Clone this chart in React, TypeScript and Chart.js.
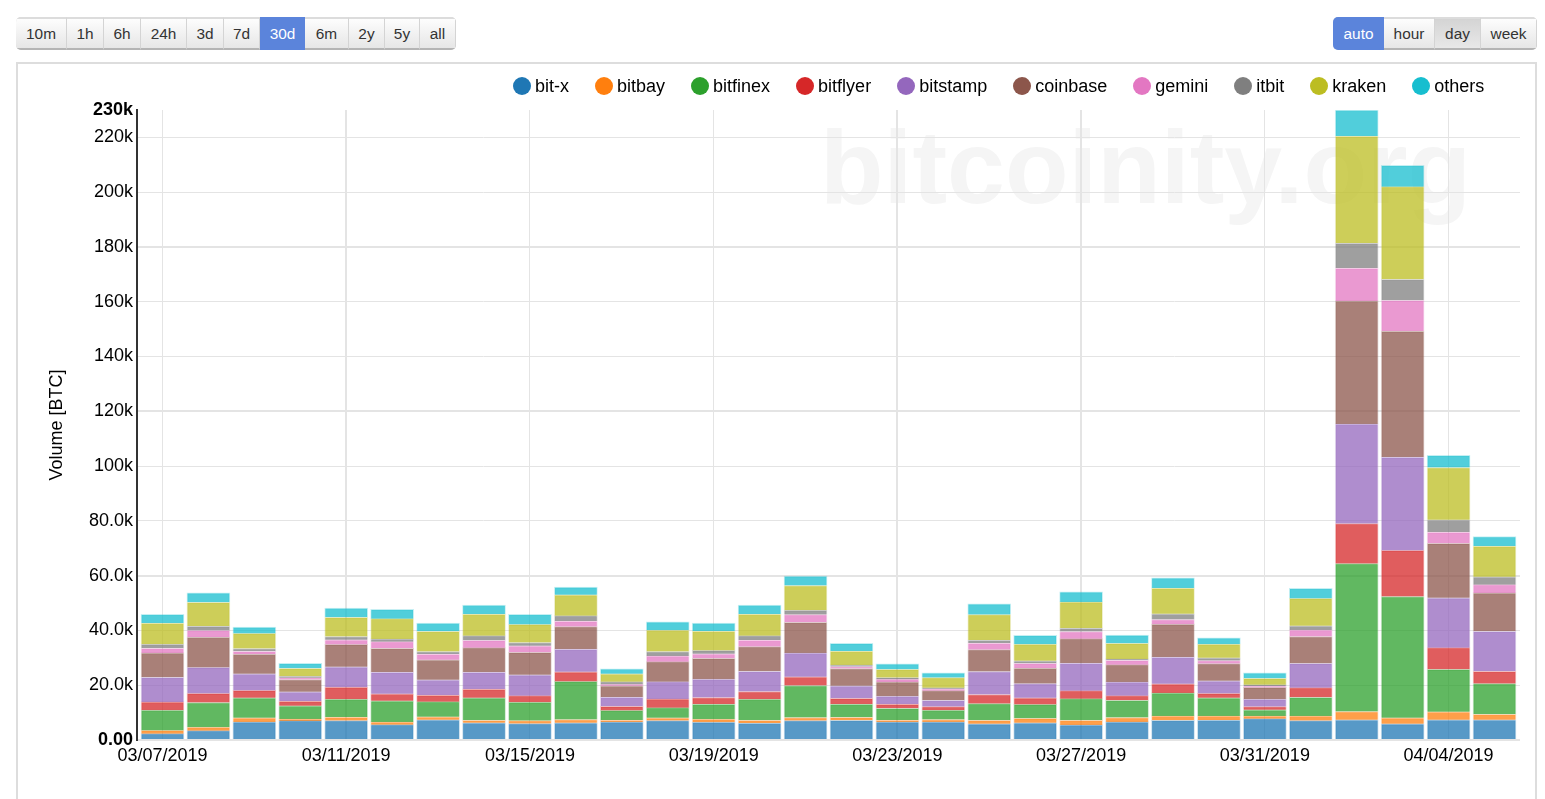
import { useEffect, useRef } from "react"
import { Chart, registerables } from "chart.js"

Chart.register(...registerables)

const days = [
  "03/07/2019", "03/08/2019", "03/09/2019", "03/10/2019", "03/11/2019", "03/12/2019",
  "03/13/2019", "03/14/2019", "03/15/2019", "03/16/2019", "03/17/2019", "03/18/2019",
  "03/19/2019", "03/20/2019", "03/21/2019", "03/22/2019", "03/23/2019", "03/24/2019",
  "03/25/2019", "03/26/2019", "03/27/2019", "03/28/2019", "03/29/2019", "03/30/2019",
  "03/31/2019", "04/01/2019", "04/02/2019", "04/03/2019", "04/04/2019", "04/05/2019",
]

// volumes in thousands of BTC
const bitx = [2.3, 3.4, 6.6, 7.1, 7.1, 5.6, 7.4, 6.3, 6.0, 6.3, 6.6, 7.1, 6.5, 6.2, 7.1, 7.2, 6.6, 6.6, 5.9, 6.3, 5.5, 6.6, 7.2, 7.3, 7.8, 7.1, 7.4, 5.9, 7.4, 7.4]
const bitbay = [1.2, 1.3, 1.5, 0.6, 1.3, 1.0, 1.1, 0.9, 1.1, 1.2, 0.7, 1.0, 1.1, 1.0, 1.1, 1.1, 0.7, 0.9, 1.3, 1.6, 1.7, 1.6, 1.6, 1.5, 1.0, 1.7, 3.0, 2.2, 2.9, 2.0]
const bitfinex = [7.4, 9.0, 7.3, 4.8, 6.5, 7.7, 5.5, 8.2, 6.7, 13.9, 3.5, 3.7, 5.5, 7.7, 11.7, 4.8, 4.3, 3.4, 6.1, 5.1, 7.9, 6.3, 8.4, 6.6, 2.2, 6.8, 54.0, 44.3, 15.5, 11.2]
const bitflyer = [3.0, 3.3, 2.7, 1.7, 4.4, 2.6, 2.4, 3.2, 2.4, 3.5, 1.5, 3.2, 2.4, 2.8, 3.2, 2.1, 1.5, 1.3, 3.3, 2.4, 2.9, 1.7, 3.3, 1.6, 1.2, 3.5, 14.6, 16.8, 7.9, 4.5]
const bitstamp = [9.0, 9.5, 6.1, 3.4, 7.4, 7.9, 5.6, 6.2, 7.6, 8.3, 3.4, 6.3, 6.7, 7.4, 8.7, 4.6, 2.9, 2.3, 8.4, 5.2, 10.1, 5.0, 9.8, 4.6, 2.7, 8.9, 36.4, 34.1, 18.2, 14.6]
const coinbase = [8.9, 11.1, 7.2, 4.5, 8.2, 8.7, 7.3, 8.9, 8.2, 8.2, 4.1, 7.3, 7.6, 9.0, 11.2, 6.3, 5.2, 3.5, 8.0, 5.7, 8.9, 6.3, 12.0, 6.3, 4.3, 9.8, 44.9, 46.0, 19.9, 14.0]
const gemini = [1.7, 2.4, 1.0, 0.6, 1.7, 2.4, 2.1, 2.7, 2.4, 2.0, 0.5, 2.1, 1.7, 2.4, 2.8, 0.7, 1.0, 0.7, 2.4, 1.7, 2.6, 1.6, 1.7, 1.1, 0.5, 2.4, 12.0, 11.2, 4.1, 3.0]
const itbit = [1.5, 1.6, 1.0, 0.6, 1.2, 1.0, 0.9, 1.7, 1.2, 2.0, 1.0, 1.6, 1.2, 1.6, 1.6, 0.6, 0.6, 0.4, 1.1, 0.9, 1.3, 0.5, 2.1, 1.0, 0.5, 1.5, 9.1, 7.7, 4.5, 2.9]
const kraken = [7.7, 8.7, 5.5, 2.9, 7.0, 7.4, 7.4, 7.9, 6.6, 7.6, 2.9, 7.8, 7.1, 7.9, 9.0, 5.1, 3.0, 3.7, 9.3, 6.1, 9.5, 5.7, 9.4, 5.0, 2.3, 10.0, 39.1, 33.8, 19.1, 11.2]
const others = [3.2, 3.4, 2.3, 1.8, 3.4, 3.4, 3.0, 3.3, 3.7, 2.8, 1.8, 3.0, 2.9, 3.3, 3.4, 2.8, 2.0, 1.7, 3.9, 3.2, 3.7, 3.0, 3.7, 2.3, 2.0, 3.7, 9.5, 7.8, 4.4, 3.5]

const seriesNames = ["bit-x", "bitbay", "bitfinex", "bitflyer", "bitstamp", "coinbase", "gemini", "itbit", "kraken", "others"]
const seriesValues = [bitx, bitbay, bitfinex, bitflyer, bitstamp, coinbase, gemini, itbit, kraken, others]
const seriesRgb = ["31,119,180", "255,127,14", "44,160,44", "214,39,40", "148,103,189", "140,86,75", "227,119,194", "127,127,127", "188,189,34", "23,190,207"]

const xTicks = [0, 4, 8, 12, 16, 20, 24, 28]
const yTicks = [0, 20, 40, 60, 80, 100, 120, 140, 160, 180, 200, 220, 230]

const rangeButtons = [
  { label: "10m", width: 51 }, { label: "1h", width: 37 }, { label: "6h", width: 37 }, { label: "24h", width: 46 },
  { label: "3d", width: 37 }, { label: "7d", width: 36 }, { label: "30d", width: 45, active: true }, { label: "6m", width: 44 },
  { label: "2y", width: 36 }, { label: "5y", width: 35 }, { label: "all", width: 36 },
]
const stepButtons = [
  { label: "auto", width: 51, active: true }, { label: "hour", width: 51 },
  { label: "day", width: 46, pressed: true }, { label: "week", width: 56 },
]

const FONT = "'Liberation Sans', Arial, sans-serif"

function formatY(v: number) {
  if (v === 0) return "0.00"
  return v >= 100 ? `${v}k` : `${v}.0k`
}

function ButtonGroup({ items, left }: { items: any[]; left: number }) {
  return (
    <div style={{ position: "absolute", left, top: 17, display: "flex", height: 33, borderRadius: 5, overflow: "hidden", boxShadow: "inset 0 0 0 1px #d8d8d8" }}>
      {items.map((b) => (
        <div
          key={b.label}
          style={{
            width: b.width,
            boxSizing: "border-box",
            textAlign: "center",
            lineHeight: b.active ? "33px" : "29px",
            fontSize: 15.4,
            color: b.active ? "#fff" : "#333",
            background: b.active ? "#5b84db" : b.pressed ? "linear-gradient(#d4d4d4, #e8e8e8)" : "linear-gradient(#fdfdfd, #e6e6e6)",
            borderRight: b.active ? "none" : "1px solid #d4d4d4",
            borderTop: b.active ? "none" : "2px solid #dcdcdc",
            borderBottom: b.active ? "none" : "2px solid #b4b4b4",
          }}
        >
          {b.label}
        </div>
      ))}
    </div>
  )
}

export default function App() {
  const canvasRef = useRef<HTMLCanvasElement>(null)

  useEffect(() => {
    if (!canvasRef.current) return

    const chart = new Chart(canvasRef.current, {
      type: "bar",
      data: {
        datasets: seriesNames.map((name, i) => ({
          label: name,
          data: seriesValues[i].map((v, day) => ({ x: day, y: v })),
          backgroundColor: `rgba(${seriesRgb[i]},0.75)`,
          borderColor: `rgba(${seriesRgb[i]},0.25)`,
          borderWidth: 1,
          barThickness: 43,
        })),
      },
      options: {
        animation: false,
        responsive: false,
        devicePixelRatio: 1,
        layout: { padding: { left: 46, top: 110, right: 25, bottom: 0 } },
        plugins: { legend: { display: false }, tooltip: { enabled: false } },
        scales: {
          x: {
            type: "linear",
            stacked: true,
            offset: false,
            min: -0.555,
            max: 29.555,
            afterBuildTicks: (scale: any) => {
              scale.ticks = xTicks.map((value) => ({ value }))
            },
            afterFit: (scale: any) => {
              scale.height = 59
            },
            grid: {
              offset: false,
              color: "#e4e4e4",
              drawTicks: false,
              lineWidth: (ctx: any) => (ctx.tick && [4, 16, 20].includes(ctx.tick.value) ? 2 : 1),
            },
            border: { display: false },
            ticks: {
              autoSkip: false,
              maxRotation: 0,
              padding: 5,
              color: "#000",
              font: { family: FONT, size: 18 },
              callback: (v: any) => days[v as number],
            },
          },
          y: {
            stacked: true,
            min: 0,
            max: 230,
            afterBuildTicks: (scale: any) => {
              scale.ticks = yTicks.map((value) => ({ value }))
            },
            afterFit: (scale: any) => {
              scale.width = 91
            },
            title: {
              display: true,
              text: "Volume [BTC]",
              color: "#000",
              padding: 0,
              font: { family: FONT, size: 18 },
            },
            grid: {
              color: (ctx: any) => (ctx.tick && ctx.tick.value === 230 ? "rgba(0,0,0,0)" : "#e4e4e4"),
              drawTicks: false,
              lineWidth: (ctx: any) => (ctx.tick && [0, 60, 120, 180].includes(ctx.tick.value) ? 2 : 1),
            },
            border: { color: "#333", width: 2 },
            ticks: {
              autoSkip: false,
              padding: 4,
              color: "#000",
              font: (ctx: any) => ({
                family: FONT,
                size: 18,
                weight: ctx.tick && (ctx.tick.value === 0 || ctx.tick.value === 230) ? "bold" : "normal",
              }),
              callback: (v: any) => formatY(v as number),
            },
          },
        },
      },
    } as any)

    return () => chart.destroy()
  }, [])

  return (
    <div style={{ position: "absolute", left: 0, top: 0, width: 1545, height: 799, overflow: "hidden", background: "#fff", fontFamily: FONT }}>
      <ButtonGroup items={rangeButtons} left={16} />
      <ButtonGroup items={stepButtons} left={1333} />
      <div style={{ position: "absolute", left: 16, top: 62, width: 1521, height: 800, boxSizing: "border-box", border: "2px solid #ddd" }} />
      <div style={{ position: "absolute", left: 820, top: 108, fontSize: 104, fontWeight: "bold", color: "#f5f5f5", whiteSpace: "nowrap" }}>
        bitcoinity.org
      </div>
      <canvas ref={canvasRef} width={1545} height={799} style={{ position: "absolute", left: 0, top: 0 }} />
      <div style={{ position: "absolute", left: 513, top: 74, height: 24, display: "flex", gap: 26, alignItems: "center", fontSize: 18, color: "#000" }}>
        {seriesNames.map((name, i) => (
          <div key={name} style={{ display: "flex", alignItems: "center", gap: 4 }}>
            <span style={{ width: 18, height: 18, borderRadius: "50%", background: `rgb(${seriesRgb[i]})` }} />
            <span>{name}</span>
          </div>
        ))}
      </div>
    </div>
  )
}
